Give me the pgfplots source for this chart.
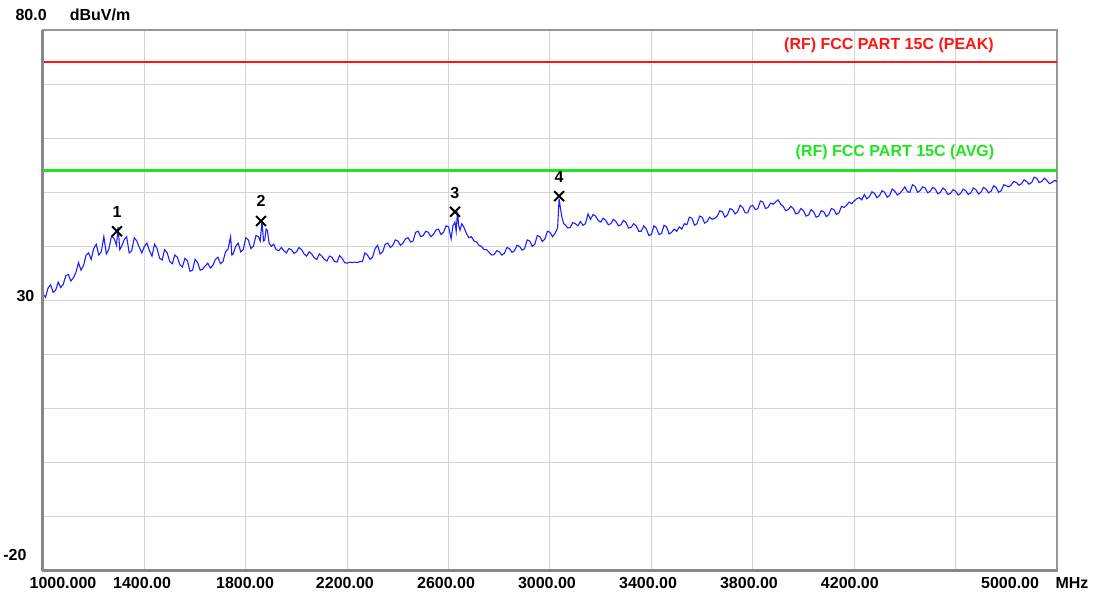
\documentclass[border=0pt]{standalone}
\usepackage{fontspec}
\setmainfont{Liberation Sans}
\usepackage{pgfplots}
\pgfplotsset{compat=1.18}
\definecolor{gridgray}{RGB}{212,212,212}
\definecolor{framegray}{RGB}{150,150,150}
\definecolor{limred}{RGB}{255,20,20}
\definecolor{limgreen}{RGB}{30,230,30}
\definecolor{trace}{RGB}{30,30,255}
\begin{document}
\begin{tikzpicture}
\useasboundingbox (-43pt,-26pt) rectangle (1052pt,571pt);
\begin{axis}[at={(0,0)}, anchor=south west, scale only axis,
  width=1014pt, height=541pt,
  xmin=1000, xmax=5000, ymin=-20, ymax=80,
  xtick={1400,1800,...,4600}, ytick={-10,0,...,70},
  xticklabels={}, yticklabels={},
  major tick length=0pt,
  grid=major, grid style={gridgray, line width=1pt},
  axis line style={framegray, line width=1.5pt},
  clip=false,
  font=\fontsize{16}{18}\selectfont\bfseries]
\addplot[limred, line width=2pt] coordinates {(1000,74) (5000,74)};
\addplot[limgreen, line width=2.5pt] coordinates {(1000,54) (5000,54)};
\addplot[trace, line width=1.1pt] coordinates {
(1000,31.2) (1010,30.6) (1020,32.3) (1030,32.9) (1040,31.5) (1050,31.9) (1060,33.4) (1070,32.4) (1080,33.0) (1090,34.6)
(1100,34.8) (1110,33.6) (1120,34.2) (1130,35.2) (1140,37.0) (1150,35.6) (1160,36.5) (1170,38.4) (1180,38.8) (1190,37.6)
(1200,39.6) (1210,40.4) (1220,38.4) (1230,39.0) (1240,41.8) (1250,38.6) (1260,39.5) (1270,41.9) (1280,41.5) (1290,40.2)
(1296,43.6) (1303,39.4) (1310,40.0) (1320,41.2) (1330,41.8) (1340,38.8) (1350,39.2) (1360,41.6) (1370,41.0) (1380,39.8)
(1390,38.8) (1400,40.0) (1410,40.6) (1420,39.2) (1430,38.2) (1440,40.4) (1450,39.6) (1460,37.8) (1470,37.5) (1480,39.4)
(1490,38.8) (1500,37.2) (1510,36.8) (1520,38.4) (1530,38.0) (1540,36.6) (1550,36.2) (1560,37.8) (1570,37.3) (1580,35.4)
(1590,35.6) (1600,37.6) (1610,37.0) (1620,35.6) (1630,35.8) (1640,36.4) (1650,36.9) (1660,36.0) (1670,36.5) (1680,37.6)
(1690,38.0) (1700,36.8) (1710,37.2) (1720,39.0) (1730,39.5) (1740,41.8) (1745,38.4) (1750,38.6) (1760,40.0) (1770,40.6)
(1780,39.0) (1790,39.4) (1800,41.6) (1810,41.2) (1820,39.6) (1830,40.0) (1840,42.0) (1850,41.8) (1857,41.0) (1864,44.6)
(1870,41.0) (1875,41.2) (1880,43.2) (1885,43.0) (1892,40.6) (1900,40.0) (1910,40.4) (1920,39.4) (1930,39.2) (1940,39.8)
(1950,39.2) (1960,38.8) (1970,39.6) (1980,39.4) (1990,38.7) (2000,39.0) (2010,39.8) (2020,39.4) (2030,38.6) (2040,38.2)
(2050,39.0) (2060,38.6) (2070,37.9) (2080,37.6) (2090,38.6) (2100,38.2) (2110,37.6) (2120,37.3) (2130,38.2) (2140,38.0)
(2150,37.2) (2160,37.1) (2170,38.3) (2180,37.8) (2190,37.0) (2200,36.9) (2210,37.1) (2220,37.0) (2230,37.1) (2240,37.0)
(2250,37.2) (2260,37.2) (2270,38.8) (2280,38.4) (2290,37.6) (2300,38.0) (2310,39.6) (2320,40.2) (2330,38.6) (2340,39.0)
(2350,40.4) (2360,40.6) (2370,39.8) (2380,40.2) (2390,41.2) (2400,41.0) (2410,40.2) (2420,40.6) (2430,41.4) (2440,41.6)
(2450,40.8) (2460,41.0) (2470,42.6) (2480,42.8) (2490,41.8) (2500,42.0) (2510,42.8) (2520,42.6) (2530,41.8) (2540,42.2)
(2550,43.0) (2560,43.2) (2570,42.2) (2580,42.6) (2590,43.8) (2600,43.6) (2610,41.4) (2617,43.8) (2625,44.5) (2630,42.8)
(2635,46.4) (2640,43.8) (2645,43.0) (2652,44.2) (2660,43.6) (2670,42.4) (2680,41.6) (2690,41.8) (2700,41.0) (2710,40.8)
(2720,40.2) (2730,40.0) (2740,39.4) (2750,39.4) (2760,38.9) (2770,38.4) (2780,38.5) (2790,39.2) (2800,39.0) (2810,38.4)
(2820,38.7) (2830,39.8) (2840,39.6) (2850,38.9) (2860,39.2) (2870,40.2) (2880,40.0) (2890,39.3) (2900,39.6) (2910,41.2)
(2920,41.0) (2930,40.0) (2940,40.4) (2950,42.0) (2960,41.8) (2970,40.9) (2980,41.4) (2990,42.8) (3000,42.6) (3010,41.8)
(3020,42.4) (3030,43.4) (3036,48.8) (3042,46.8) (3048,45.2) (3054,44.2) (3060,44.0) (3070,43.4) (3080,43.5) (3090,44.4)
(3100,44.2) (3110,43.8) (3120,44.6) (3130,43.9) (3140,44.2) (3150,46.0) (3160,45.0) (3170,45.9) (3180,45.6) (3190,44.8)
(3200,44.5) (3210,45.2) (3220,44.8) (3230,44.0) (3240,44.2) (3250,45.0) (3260,44.6) (3270,43.8) (3280,44.0) (3290,44.8)
(3300,44.4) (3310,43.4) (3320,43.5) (3330,44.2) (3340,43.8) (3350,42.8) (3360,42.8) (3370,43.8) (3380,43.2) (3390,42.0)
(3400,42.2) (3410,43.8) (3420,43.4) (3430,42.2) (3440,42.4) (3450,43.9) (3460,43.6) (3470,42.3) (3480,42.6) (3490,43.2)
(3500,42.8) (3510,43.6) (3520,43.2) (3530,44.2) (3540,44.0) (3550,45.4) (3560,45.2) (3570,43.9) (3580,44.2) (3590,45.6)
(3600,45.4) (3610,44.3) (3620,44.6) (3630,45.4) (3640,45.0) (3650,45.2) (3660,45.6) (3670,46.6) (3680,46.4) (3690,45.4)
(3700,45.8) (3710,47.0) (3720,46.8) (3730,46.0) (3740,46.4) (3750,47.6) (3760,47.2) (3770,46.2) (3780,46.2) (3790,47.4)
(3800,47.6) (3810,46.8) (3820,47.0) (3830,48.4) (3840,48.2) (3850,47.0) (3860,47.2) (3870,48.0) (3880,47.8) (3890,48.2)
(3900,48.6) (3910,47.8) (3920,47.4) (3930,46.6) (3940,46.8) (3950,47.4) (3960,47.0) (3970,46.0) (3980,46.2) (3990,47.0)
(4000,46.6) (4010,45.6) (4020,45.8) (4030,46.8) (4040,46.4) (4050,45.4) (4060,45.6) (4070,46.6) (4080,46.4) (4090,45.5)
(4100,45.9) (4110,47.0) (4120,46.8) (4130,45.9) (4140,46.2) (4150,47.4) (4160,47.2) (4170,47.6) (4180,48.2) (4190,47.9)
(4200,48.4) (4210,48.8) (4220,49.0) (4230,48.6) (4240,49.6) (4250,48.8) (4260,49.2) (4270,50.1) (4280,49.8) (4290,49.0)
(4300,49.4) (4310,50.3) (4320,50.0) (4330,49.1) (4340,49.4) (4350,50.6) (4360,50.2) (4370,49.5) (4380,49.8) (4390,50.4)
(4400,51.0) (4410,50.1) (4420,50.0) (4430,51.4) (4440,51.1) (4450,50.0) (4460,50.3) (4470,51.0) (4480,50.8) (4490,49.9)
(4500,50.2) (4510,50.9) (4520,50.6) (4530,49.7) (4540,50.0) (4550,50.8) (4560,50.4) (4570,49.6) (4580,49.8) (4590,50.5)
(4600,50.2) (4610,49.5) (4620,49.8) (4630,50.6) (4640,50.3) (4650,49.6) (4660,49.9) (4670,50.8) (4680,50.5) (4690,49.7)
(4700,50.0) (4710,50.9) (4720,50.6) (4730,49.9) (4740,50.2) (4750,51.2) (4760,50.9) (4770,50.0) (4780,50.3) (4790,51.4)
(4800,51.2) (4810,51.0) (4820,51.4) (4830,52.0) (4840,51.8) (4850,51.3) (4860,51.6) (4870,52.3) (4880,52.0) (4890,51.5)
(4900,51.8) (4910,52.8) (4920,52.6) (4930,51.8) (4940,52.0) (4950,52.6) (4960,52.2) (4970,51.6) (4980,51.8) (4990,52.2)
(5000,52.0)
};
\addplot[only marks, mark=x, mark size=7pt, black, mark options={line width=2pt}] coordinates {(1292,42.8) (1860,44.7) (2625,46.4) (3036,49.3)};
\node at (axis cs:1292,46.4) {1};
\node at (axis cs:1860,48.4) {2};
\node at (axis cs:2625,49.9) {3};
\node at (axis cs:3036,52.8) {4};
\node[text=limred] at (axis cs:4337,77.2) {(RF) FCC PART 15C (PEAK)};
\node[text=limgreen] at (axis cs:4361,57.3) {(RF) FCC PART 15C (AVG)};
\draw[framegray!90!black, line width=3pt] (rel axis cs:0,0) -- (rel axis cs:0,1);
\draw[framegray!90!black, line width=3pt] (rel axis cs:0,0) -- (rel axis cs:1,0);
\node at (axis cs:953,82.8) {80.0};
\node at (axis cs:1225,82.8) {dBuV/m};
\node[anchor=east] at (axis cs:980,30.8) {30};
\node[anchor=east] at (axis cs:949,-17.0) {-20};
\node at (axis cs:1079,-22.2) {1000.000};
\node at (axis cs:1391,-22.2) {1400.00};
\node at (axis cs:1797,-22.2) {1800.00};
\node at (axis cs:2191,-22.2) {2200.00};
\node at (axis cs:2590,-22.2) {2600.00};
\node at (axis cs:2988,-22.2) {3000.00};
\node at (axis cs:3387,-22.2) {3400.00};
\node at (axis cs:3785,-22.2) {3800.00};
\node at (axis cs:4183,-22.2) {4200.00};
\node at (axis cs:4815,-22.2) {5000.00};
\node at (axis cs:5059,-22.2) {MHz};
\end{axis}
\end{tikzpicture}
\end{document}
